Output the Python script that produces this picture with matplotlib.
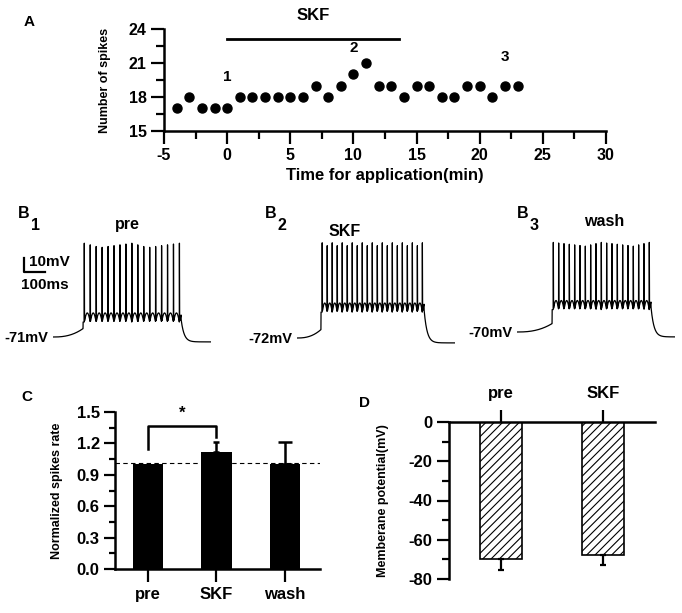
import matplotlib
matplotlib.use('Agg')
import matplotlib.pyplot as plt
import numpy as np

plt.rcParams['font.family'] = ['Liberation Sans', 'DejaVu Sans']
plt.rcParams['font.weight'] = 'bold'
plt.rcParams['hatch.linewidth'] = 0.8
plt.rcParams['axes.unicode_minus'] = False

# ---- data ----
# panel A: spike count over time
time_min = [-4, -3, -2, -1, 0, 1, 2, 3, 4, 5, 6, 7, 8, 9, 10, 11, 12, 13,
            14, 15, 16, 17, 18, 19, 20, 21, 22, 23]
n_spikes = [17, 18, 17, 17, 17, 18, 18, 18, 18, 18, 18, 19, 18, 19, 20, 21, 19, 19,
            18, 19, 19, 18, 18, 19, 19, 18, 19, 19]
skf_period = [0, 13.6]
marks = ['1', '2', '3']
mark_x = [0, 10, 22]
mark_y = [19.8, 22.3, 21.5]

# panel B: example recordings
trace_names = ['pre', 'SKF', 'wash']
trace_rest = [-71, -72, -70]          # mV
trace_spikes = [17, 21, 19]
trace_plateau = [10.7, 18.5, 16.0]    # depolarisation during step, mV
trace_peak = [67, 68, 64]             # spike height above rest, mV

# panel C
c_groups = ['pre', 'SKF', 'wash']
c_mean = [1.0, 1.12, 1.0]
c_err = [0.0, 0.09, 0.21]

# panel D
d_groups = ['pre', 'SKF']
d_mean = [-70, -68]
d_err = [5.5, 5.0]

W, H = 682, 613
fig = plt.figure(figsize=(W / 100, H / 100), dpi=100)


def rect(x0, y0, x1, y1):
    # pixel box (top-left origin) -> figure fraction
    return [x0 / W, 1 - y1 / H, (x1 - x0) / W, (y1 - y0) / H]


def ftext(x, y, s, **kw):
    fig.text(x / W, 1 - y / H, s, fontweight='bold', **kw)


# ---------------- A ----------------
ax = fig.add_axes(rect(164, 29, 606, 131))
ax.plot(time_min, n_spikes, 'o', color='black', markersize=6.5)
ax.set_xlim(-5, 30)
ax.set_ylim(15, 24)
ax.set_xticks(np.arange(-5, 31, 5))
ax.set_xticks(np.arange(-5, 31, 2.5), minor=True)
ax.set_yticks([15, 18, 21, 24])
ax.set_yticks(np.arange(15, 24.1, 1.5), minor=True)
for s in ['top', 'right']:
    ax.spines[s].set_visible(False)
for s in ['left', 'bottom']:
    ax.spines[s].set_linewidth(1.8)
ax.tick_params(which='major', length=9.5, width=1.6, labelsize=11.5, pad=3)
ax.tick_params(which='minor', length=5.5, width=1.6)
ax.set_xlabel('Time for application(min)', fontsize=12, fontweight='bold', labelpad=3)
ax.set_ylabel('Number of spikes', fontsize=9, fontweight='bold', labelpad=13)
ax.plot(skf_period, [23.1, 23.1], color='black', lw=2, clip_on=False)
ax.text(sum(skf_period) / 2, 25.2, 'SKF', ha='center', va='center',
        fontsize=12, fontweight='bold')
for m, x, y in zip(marks, mark_x, mark_y):
    ax.text(x, y, m, ha='center', va='center', fontsize=11, fontweight='bold')
ftext(29, 22, 'A', fontsize=11, ha='center', va='center')

# ---------------- B ----------------
px_ms = 0.21     # pixels per ms
px_mv = 1.4      # pixels per mV
t_end = 750
step_on = [143, 114, 167]
step_off = [610, 605, 638]
trace_left = [53, 297, 517]
rest_px = [337, 338, 332]


def make_trace(rest, nsp, plateau, peak, on, off):
    t = np.arange(0, t_end, 0.1)
    v = np.full_like(t, rest, dtype=float)
    pre = t < on
    v[pre] = rest + 6 * (t[pre] / on) ** 2.5
    during = (t >= on) & (t < off)
    first = on + 6
    isi = (off - 8 - first) / (nsp - 1)
    ph = np.clip((t[during] - first) / isi, 0, None)
    v[during] = rest + plateau + 6.5 * np.abs(np.sin(np.pi * ph))
    for k in range(nsp):
        ts = first + k * isi
        up = (t >= ts - 0.6) & (t < ts)
        dn = (t >= ts) & (t < ts + 1.2)
        v[up] = rest + plateau + (peak - plateau) * (t[up] - ts + 0.6) / 0.6
        v[dn] = rest + peak - (peak - plateau) * (t[dn] - ts) / 1.2
    post = t >= off
    v_last = rest + plateau + 2
    v[post] = rest - 3.5 + (v_last - rest + 3.5) * np.exp(-(t[post] - off) / 14)
    return t, v


for i in range(3):
    top_px = rest_px[i] - (5 - trace_rest[i]) * px_mv
    axb = fig.add_axes(rect(trace_left[i], top_px, trace_left[i] + t_end * px_ms,
                            top_px + 90 * px_mv))
    t, v = make_trace(trace_rest[i], trace_spikes[i], trace_plateau[i],
                      trace_peak[i], step_on[i], step_off[i])
    axb.plot(t, v, color='black', lw=0.9)
    axb.set_xlim(0, t_end)
    axb.set_ylim(-85, 5)
    axb.axis('off')
    axb.text(-22, trace_rest[i] - 0.5, '%dmV' % trace_rest[i], ha='right', va='center',
             fontsize=10.5, fontweight='bold')
    if i == 0:
        # scale bar 10 mV / 100 ms
        x0 = -140
        ybar = -24.6
        axb.plot([x0, x0, x0 + 100], [ybar + 10, ybar, ybar], color='black',
                 lw=1.6, clip_on=False)
        axb.text(x0 + 26, ybar + 7.5, '10mV', ha='left', va='center',
                 fontsize=11, fontweight='bold')
        axb.text(x0 - 12, ybar - 9.5, '100ms', ha='left', va='center',
                 fontsize=11, fontweight='bold')

b_lbl_x = [24, 271, 523]
b_title_xy = [(127, 225), (345, 232), (604, 221)]
for i in range(3):
    ftext(b_lbl_x[i], 213, 'B', fontsize=11.5, ha='center', va='center')
    ftext(b_lbl_x[i] + 11, 225, str(i + 1), fontsize=11.5, ha='center', va='center')
    ftext(b_title_xy[i][0], b_title_xy[i][1], trace_names[i], fontsize=11.5,
          ha='center', va='center')

# ---------------- C ----------------
axc = fig.add_axes(rect(115, 412, 320, 569))
xc = np.arange(len(c_groups))
axc.bar(xc, c_mean, width=0.44, color='black')
for x, m, e, cs in zip(xc, c_mean, c_err, [0, 2.5, 5]):
    if e > 0:
        axc.errorbar(x, m, yerr=[[0], [e]], color='black', lw=1.8, capsize=cs,
                     capthick=1.8)
axc.axhline(1.01, color='black', lw=0.8, ls=(0, (4, 3)))
axc.plot([0, 0, 1, 1], [1.15, 1.37, 1.37, 1.26], color='black', lw=1.8)
axc.text(0.5, 1.49, '*', ha='center', va='center', fontsize=12, fontweight='bold')
axc.set_xlim(-0.48, 2.51)
axc.set_ylim(0, 1.5)
axc.set_xticks(xc)
axc.set_xticklabels(c_groups)
axc.set_yticks(np.arange(0, 1.51, 0.3))
axc.set_yticks(np.arange(0, 1.51, 0.15), minor=True)
axc.yaxis.set_major_formatter(matplotlib.ticker.FormatStrFormatter('%.1f'))
for s in ['top', 'right']:
    axc.spines[s].set_visible(False)
for s in ['left', 'bottom']:
    axc.spines[s].set_linewidth(1.8)
axc.tick_params(which='major', length=8, width=1.6, labelsize=12, pad=3)
axc.tick_params(which='minor', length=4.5, width=1.6)
axc.tick_params(axis='x', length=9, labelsize=12, pad=4)
axc.set_ylabel('Normalized spikes rate', fontsize=9, fontweight='bold', labelpad=10)
ftext(27, 397, 'C', fontsize=11, ha='center', va='center')

# ---------------- D ----------------
axd = fig.add_axes(rect(449, 422, 655, 579))
xd = np.arange(len(d_groups))
axd.bar(xd, d_mean, width=0.41, color='white', edgecolor='black', lw=1.2,
        hatch='////')
axd.errorbar(xd, d_mean, yerr=[d_err, [0] * len(d_err)], fmt='none',
             ecolor='black', lw=1.6, capsize=2.5, capthick=1.6)
axd.set_xlim(-0.51, 1.51)
axd.set_ylim(-80, 0)
axd.xaxis.tick_top()
axd.set_xticks(xd)
axd.set_xticklabels(d_groups)
axd.set_yticks(np.arange(-80, 1, 20))
axd.set_yticks(np.arange(-80, 1, 10), minor=True)
for s in ['bottom', 'right']:
    axd.spines[s].set_visible(False)
for s in ['left', 'top']:
    axd.spines[s].set_linewidth(1.8)
axd.tick_params(which='major', length=9, width=1.6, labelsize=12, pad=3)
axd.tick_params(which='minor', length=5, width=1.6)
axd.tick_params(axis='x', labelsize=12, pad=6)
axd.set_ylabel('Memberane potential(mV)', fontsize=9, fontweight='bold', labelpad=14)
ftext(365, 403, 'D', fontsize=11, ha='center', va='center')

fig.savefig('out.png', dpi=100)
